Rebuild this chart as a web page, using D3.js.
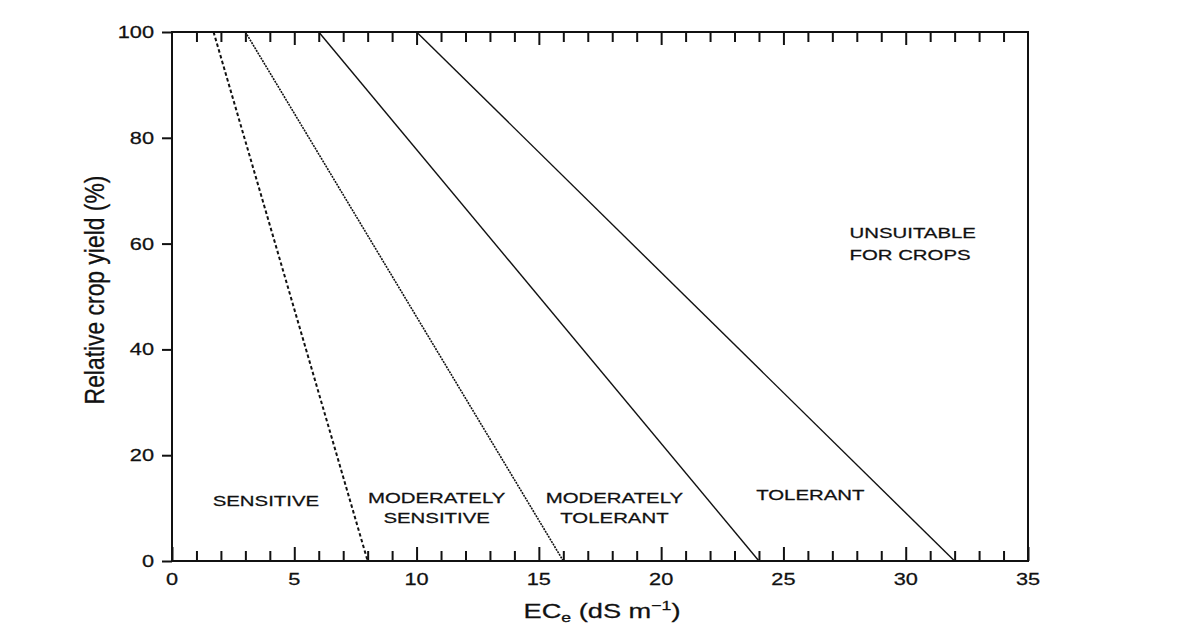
<!DOCTYPE html>
<html>
<head>
<meta charset="utf-8">
<script src="https://cdn.jsdelivr.net/npm/d3@7"></script>
<style>
  html, body { margin: 0; padding: 0; background: #fff; }
  svg { display: block; }
  text { font-family: "Liberation Sans", Arial, Helvetica, sans-serif; fill: #111; stroke: #111; stroke-width: 0.25; }
</style>
</head>
<body>
<svg id="chart" width="1184" height="628"></svg>
<script>
// Salinity tolerance classes: relative yield falls linearly from 100 % to 0 %
const classNames = ["SENSITIVE", "MODERATELY SENSITIVE", "MODERATELY TOLERANT", "TOLERANT"];
const ecAtFullYield = [1.7, 3, 6, 10];    // ECe (dS/m) where yield starts to drop
const ecAtZeroYield = [8, 16, 24, 32];    // ECe (dS/m) where yield reaches zero
const yieldFull = 100;
const yieldZero = 0;

// Axis ticks
const xMajorTicks = [0, 5, 10, 15, 20, 25, 30, 35];
const xMinorTicks = d3.range(1, 35).filter(v => v % 5 !== 0);
const yTicks = [0, 20, 40, 60, 80, 100];

// Stroke style per class line
const lineDash = ["3.5,2.5", "2,1", null, null];
const lineWidth = [2, 1.6, 1.4, 1.4];

const svg = d3.select("#chart");
const margin = { left: 172, right: 156, top: 32, bottom: 67 };
const W = 1184, H = 628;
const x = d3.scaleLinear().domain([0, 35]).range([margin.left, W - margin.right]);
const y = d3.scaleLinear().domain([0, 100]).range([H - margin.bottom, margin.top]);

const SX = 1.36; // horizontal widening of glyphs

function wideText(g, px, py, str, size, anchor) {
  return g.append("text")
    .attr("transform", `translate(${px},${py}) scale(${SX},1)`)
    .attr("text-anchor", anchor || "middle")
    .style("font-size", size + "px")
    .text(str);
}

// Class lines
const lineGen = d3.line().x(d => x(d[0])).y(d => y(d[1]));
const linesG = svg.append("g");
classNames.forEach((name, i) => {
  linesG.append("path")
    .datum([[ecAtFullYield[i], yieldFull], [ecAtZeroYield[i], yieldZero]])
    .attr("d", lineGen)
    .attr("fill", "none")
    .attr("stroke", "#111")
    .attr("stroke-width", lineWidth[i])
    .attr("stroke-dasharray", lineDash[i]);
});

// Axes
function styleAxis(g) {
  g.select(".domain").remove();
  g.selectAll(".tick line").attr("stroke", "#111").attr("stroke-width", 2);
}

// bottom: major ticks with labels, minor ticks without
const bottomMajor = svg.append("g")
  .attr("transform", `translate(0,${y(0)})`)
  .call(d3.axisBottom(x).tickValues(xMajorTicks).tickSize(-14).tickPadding(10).tickFormat(d3.format("d")))
  .call(styleAxis);
bottomMajor.selectAll(".tick text").remove();
xMajorTicks.forEach(v => wideText(svg, x(v), y(0) + 24, String(v), 16));

svg.append("g")
  .attr("transform", `translate(0,${y(0)})`)
  .call(d3.axisBottom(x).tickValues(xMinorTicks).tickSize(-10).tickFormat(""))
  .call(styleAxis);

// top: inward ticks
svg.append("g")
  .attr("transform", `translate(0,${y(100)})`)
  .call(d3.axisTop(x).tickValues(xMajorTicks.filter(v => v > 0 && v < 35)).tickSize(-13).tickFormat(""))
  .call(styleAxis);
svg.append("g")
  .attr("transform", `translate(0,${y(100)})`)
  .call(d3.axisTop(x).tickValues(xMinorTicks).tickSize(-10).tickFormat(""))
  .call(styleAxis);

// left: outward ticks
const leftAxis = svg.append("g")
  .attr("transform", `translate(${x(0)},0)`)
  .call(d3.axisLeft(y).tickValues(yTicks).tickSize(10).tickFormat(d3.format("d")))
  .call(styleAxis);
leftAxis.selectAll(".tick text").remove();
yTicks.forEach(v => wideText(svg, x(0) - 18, y(v) + 6, String(v), 16, "end"));

// frame
svg.append("rect")
  .attr("x", x(0)).attr("y", y(100))
  .attr("width", x(35) - x(0)).attr("height", y(0) - y(100))
  .attr("fill", "none").attr("stroke", "#111").attr("stroke-width", 2);

// Axis titles
const xt = svg.append("text")
  .attr("transform", `translate(${(x(0) + x(35)) / 2 + 2},618) scale(${SX},1)`)
  .attr("text-anchor", "middle")
  .style("font-size", "20px");
xt.append("tspan").text("EC");
xt.append("tspan").attr("dy", 4).style("font-size", "13px").text("e");
xt.append("tspan").attr("dy", -4).text(" (dS m");
xt.append("tspan").attr("dy", -8).style("font-size", "13px").text("−1");
xt.append("tspan").attr("dy", 8).text(")");

svg.append("text")
  .attr("transform", `translate(104,290) rotate(-90) scale(1.04,1.25)`)
  .attr("text-anchor", "middle")
  .style("font-size", "22px")
  .text("Relative crop yield (%)");

// Class labels (positions in data units)
const labelG = svg.append("g");
const labelLines = [
  { lines: ["SENSITIVE"], ec: 3.84, yld: 10.4 },
  { lines: ["MODERATELY", "SENSITIVE"], ec: 10.82, yld: 11.0 },
  { lines: ["MODERATELY", "TOLERANT"], ec: 18.09, yld: 11.0 },
  { lines: ["TOLERANT"], ec: 26.1, yld: 11.6 }
];
labelLines.forEach(l => {
  l.lines.forEach((s, k) => wideText(labelG, x(l.ec), y(l.yld) + k * 20, s, 15));
});
["UNSUITABLE", "FOR CROPS"].forEach((s, k) =>
  wideText(labelG, x(27.7), y(61.1) + k * 22, s, 15, "start"));
</script>
</body>
</html>
